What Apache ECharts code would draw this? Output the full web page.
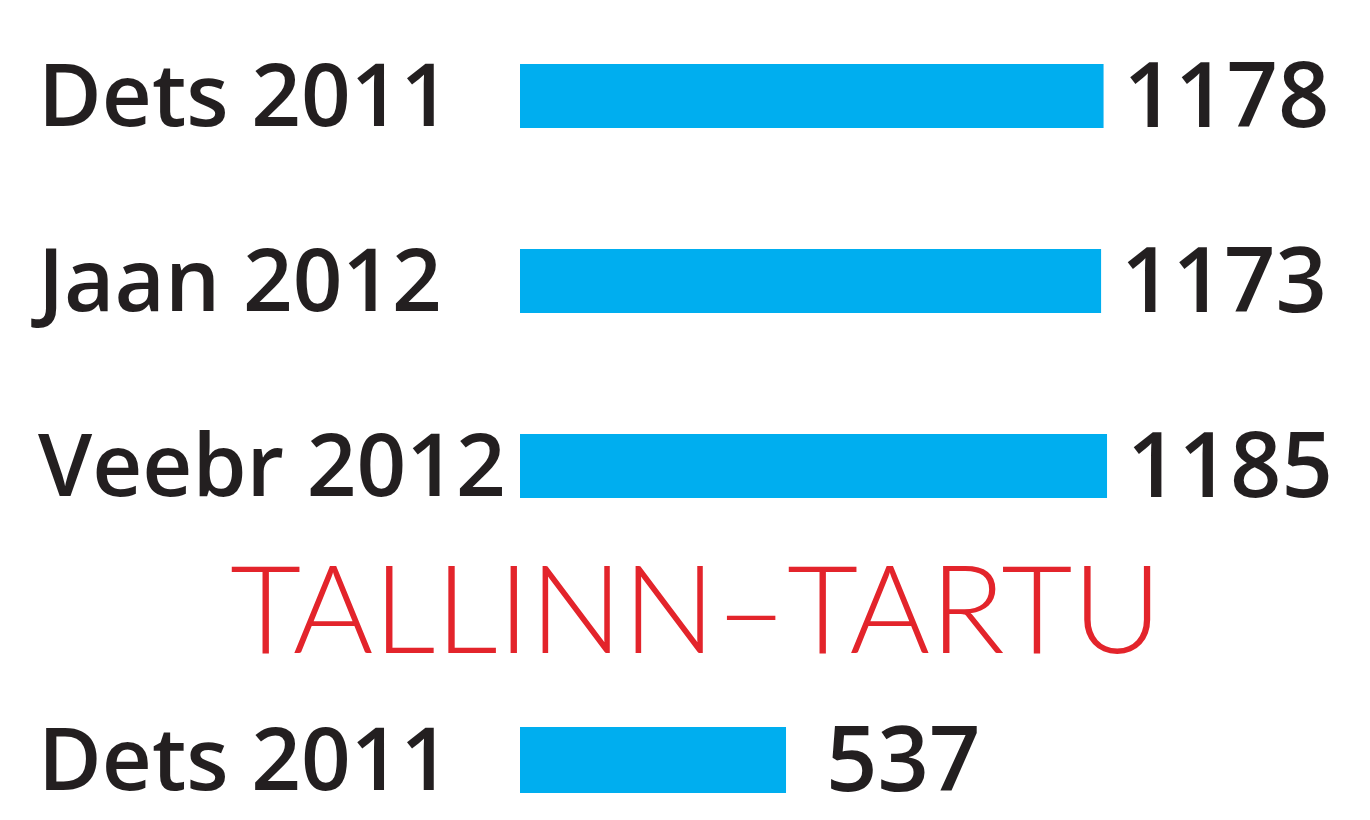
<!DOCTYPE html>
<html><head><meta charset="utf-8">
<script src="https://cdn.jsdelivr.net/npm/echarts@6/dist/echarts.min.js"></script>
<style>html,body{margin:0;padding:0;background:#fff}#c{width:1370px;height:820px}</style>
</head><body><div id="c"></div>
<script>
const topCategories = ['Dets 2011', 'Jaan 2012', 'Veebr 2012'];
const topValues = [1178, 1173, 1185];
const bottomCategories = ['Dets 2011'];
const bottomValues = [537];
const sectionTitle = 'TALLINN–TARTU';

const barColor = '#00aeef';
const textColor = '#231f20';
const catRich = { a: { fontFamily: 'Open Sans', fontWeight: 600, fontSize: 87, color: textColor, padding: [10, 0, 0, 0] } };
const valRich = { a: { fontFamily: 'Open Sans', fontWeight: 600, fontSize: 90, color: textColor, padding: [10, 0, 0, 0] } };

const chart = echarts.init(document.getElementById('c'), null, { renderer: 'canvas' });
const xMax = 1300;
const gridLeft = 520, gridWidth = 644;
function catLabel() {
  return { align: 'left', margin: 482, formatter: '{a|{value}}', rich: catRich };
}
chart.setOption({
  animation: false,
  backgroundColor: '#ffffff',
  title: {
    text: sectionTitle, left: 225, top: 547,
    textStyle: { fontFamily: 'Lato', fontWeight: 300, fontSize: 123, color: '#e3242b' }
  },
  grid: [
    { left: gridLeft, width: gridWidth, top: 3.5, height: 555 },
    { left: gridLeft, width: gridWidth, top: 700, height: 120 }
  ],
  xAxis: [
    { gridIndex: 0, type: 'value', min: 0, max: xMax, show: false },
    { gridIndex: 1, type: 'value', min: 0, max: xMax, show: false }
  ],
  yAxis: [
    { gridIndex: 0, type: 'category', data: topCategories, inverse: true,
      axisLine: { show: false }, axisTick: { show: false }, axisLabel: catLabel() },
    { gridIndex: 1, type: 'category', data: bottomCategories, inverse: true,
      axisLine: { show: false }, axisTick: { show: false }, axisLabel: catLabel() }
  ],
  series: [
    { type: 'bar', xAxisIndex: 0, yAxisIndex: 0, data: topValues, barWidth: 64,
      itemStyle: { color: barColor },
      label: { show: true, position: 'right', distance: 20, formatter: '{a|{c}}', rich: valRich } },
    { type: 'bar', xAxisIndex: 1, yAxisIndex: 1, data: bottomValues, barWidth: 66,
      itemStyle: { color: barColor },
      label: { show: true, position: 'right', distance: 40, formatter: '{a|{c}}', rich: valRich } }
  ]
});
</script></body></html>
